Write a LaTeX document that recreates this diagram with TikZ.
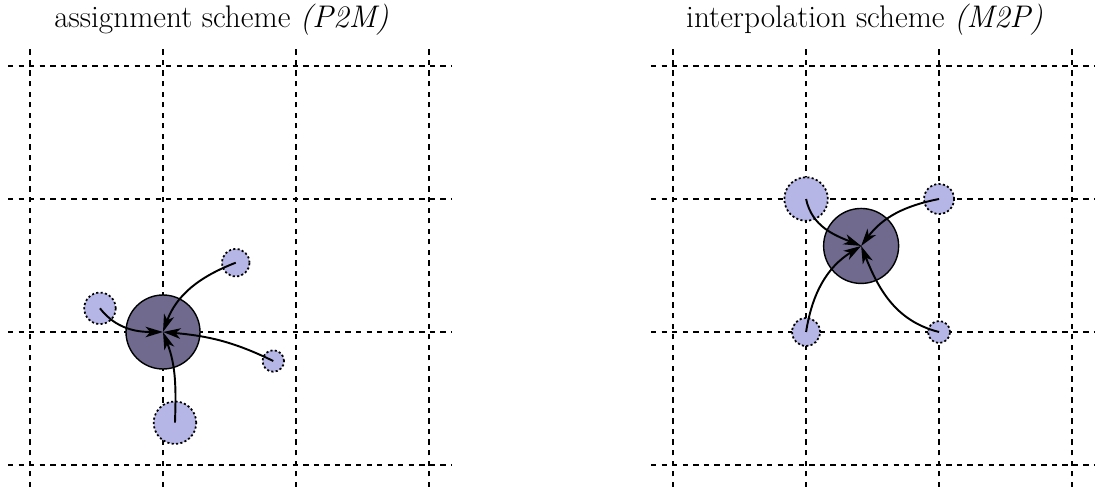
\documentclass[tikz,border=0pt]{standalone}
\usepackage{tikz}
\usetikzlibrary{arrows.meta}
\definecolor{meshfill}{HTML}{6F6A8E}
\definecolor{partfill}{HTML}{B5B5E6}

\begin{document}
\begin{tikzpicture}[
    x=2.66cm, y=2.66cm,
    gridline/.style={dashed,line width=0.75pt},
    meshnode/.style={circle,draw,fill=meshfill,line width=0.8pt,inner sep=0pt},
    particle/.style={circle,draw,dash pattern=on 1.2pt off 1.3pt,fill=partfill,line width=1pt,inner sep=0pt},
    flow/.style={-{Stealth[length=10pt,width=6pt,inset=2.8pt]},line width=1.1pt},
    heading/.style={anchor=base,inner sep=0pt,font=\fontsize{17.8}{21}\selectfont}
  ]
  \useasboundingbox (-0.2256,-0.2030) rectangle (8.0526,3.4962);
  % left panel: particles to mesh
  \node[heading] (titleP2M) at (1.44,3.286) {assignment scheme \textit{(P2M)}};
  \foreach \k in {0,...,3} {
    \draw[gridline] (-0.165,\k) -- (3.165,\k);
    \draw[gridline] (\k,-0.165) -- (\k,3.15);
  }
  \node[meshnode,minimum size=1.48cm] (mA)  at (1,1) {};
  \node[particle,minimum size=0.55cm] (pA1) at (1.547,1.521) {};
  \node[particle,minimum size=0.63cm] (pA2) at (0.526,1.178) {};
  \node[particle,minimum size=0.43cm] (pA3) at (1.829,0.782) {};
  \node[particle,minimum size=0.85cm] (pA4) at (1.090,0.318) {};
  \draw[flow] (pA1.center) to[out=-159,in=70]  (mA.center);
  \draw[flow] (pA2.center) to[out=-52,in=180]  (mA.center);
  \draw[flow] (pA3.center) to[out=154,in=-5]   (mA.center);
  \draw[flow] (pA4.center) to[out=88,in=-69]   (mA.center);
  % right panel: mesh to particles
  \begin{scope}[shift={(4.835,0)}]
    \node[heading] (titleM2P) at (1.44,3.286) {interpolation scheme \textit{(M2P)}};
    \foreach \k in {0,...,3} {
      \draw[gridline] (-0.165,\k) -- (3.165,\k);
      \draw[gridline] (\k,-0.165) -- (\k,3.15);
    }
    \node[meshnode,minimum size=1.50cm] (mB)  at (1.414,1.647) {};
    \node[particle,minimum size=0.87cm] (pB1) at (1,2) {};
    \node[particle,minimum size=0.60cm] (pB2) at (2,2) {};
    \node[particle,minimum size=0.56cm] (pB3) at (1,1) {};
    \node[particle,minimum size=0.44cm] (pB4) at (2,1) {};
    \draw[flow] (pB1.center) to[out=-78,in=158] (mB.center);
    \draw[flow] (pB2.center) to[out=191,in=53]  (mB.center);
    \draw[flow] (pB3.center) to[out=81,in=212]  (mB.center);
    \draw[flow] (pB4.center) to[out=166,in=292] (mB.center);
  \end{scope}
\end{tikzpicture}
\end{document}
